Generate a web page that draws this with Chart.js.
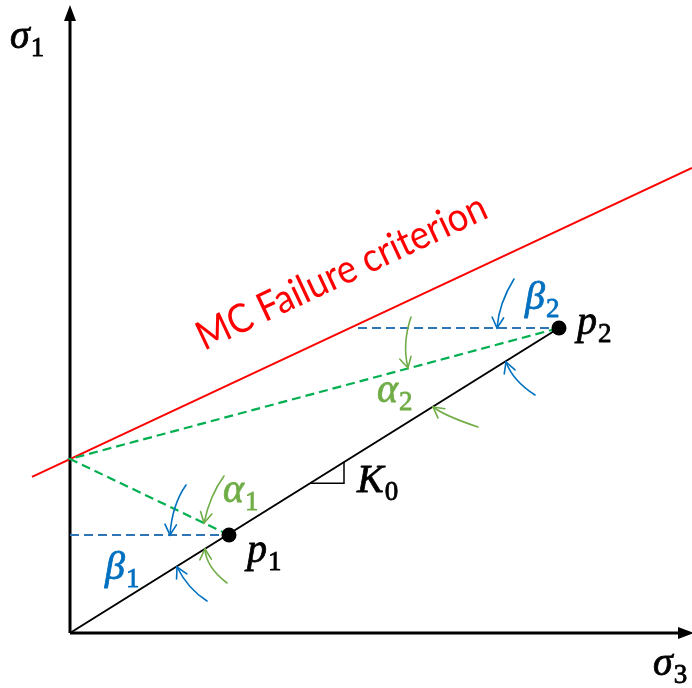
<!DOCTYPE html>
<html><head><meta charset="utf-8">
<script src="https://cdn.jsdelivr.net/npm/chart.js@4/dist/chart.umd.min.js"></script>
<style>html,body{margin:0;padding:0;background:#fff;overflow:hidden}canvas{display:block}</style>
</head><body>
<canvas id="c" width="692" height="688"></canvas>
<script>
// Stress states p1, p2 in the (σ3, σ1) plane
const stateSigma3 = [15.9, 48.9];
const stateSigma1 = [9.8, 30.5];
// Mohr–Coulomb failure line: σ1 = mcIntercept + mcSlope · σ3
const mcIntercept = 17.4;
const mcSlope = 0.468;
const mcSigma3Range = [-3.8, 62.2];
// Horizontal reference through p2 starts here (σ3)
const beta2LineStart = 28.8;
// Slope triangle on the K0 line (σ3 of its two corners)
const k0Triangle = [24.0, 27.4];
// Axis arrow tips
const sigma3Tip = 62.4;
const sigma1Tip = 62.8;

// Angle arrows: [start, control, end] in (σ3, σ1)
const betaArrows = [
  [[11.6, 14.8], [10.2, 12.8], [10.0, 9.8]],
  [[13.7, 3.2], [11.8, 4.4], [10.7, 6.6]],
  [[44.4, 35.4], [42.9, 33.0], [42.7, 30.5]],
  [[46.5, 23.8], [44.3, 25.2], [43.6, 27.1]]
];
const alphaArrows = [
  [[15.4, 15.7], [14.0, 13.8], [13.4, 11.0]],
  [[15.7, 5.0], [13.6, 6.6], [13.5, 8.4]],
  [[34.1, 31.6], [33.2, 28.9], [33.8, 26.5]],
  [[40.8, 20.6], [37.5, 21.7], [36.3, 22.6]]
];

const BLACK = '#000000', RED = '#FF0000', GREEN_D = '#00B050', BLUE_D = '#2E75B6';
const BLUE = '#0070C0', GREEN = '#70AD47';

// Symbol labels: main glyph, subscript, anchor (left/baseline) in (σ3, σ1)
const symbolLabels = [
  {t: 'σ', s: '1', at: [-6.0, 58.5], c: BLACK},
  {t: 'σ', s: '3', at: [58.3, -4.2], c: BLACK},
  {t: 'p', s: '1', at: [17.7, 7.1], c: BLACK},
  {t: 'p', s: '2', at: [50.7, 29.9], c: BLACK},
  {t: 'K', s: '0', at: [28.7, 14.1], c: BLACK},
  {t: 'β', s: '1', at: [3.5, 5.4], c: BLUE},
  {t: 'α', s: '1', at: [15.3, 13.1], c: GREEN},
  {t: 'α', s: '2', at: [30.7, 23.1], c: GREEN},
  {t: 'β', s: '2', at: [45.5, 32.4], c: BLUE}
];
const mcLabel = 'MC Failure criterion';
const mcLabelCenter = [27.7, 34.9];

const k0 = stateSigma1[1] / stateSigma3[1];
const pts = stateSigma3.map((v, i) => ({x: v, y: stateSigma1[i]}));
const A = {x: 0, y: mcIntercept};

const lineDs = (data, color, width, dash) => ({
  type: 'scatter', data, showLine: true, borderColor: color, borderWidth: width,
  borderDash: dash || [], pointRadius: 0, fill: false, tension: 0
});

const datasets = [
  {type: 'scatter', data: pts, pointRadius: 7.5, pointBackgroundColor: BLACK, pointBorderWidth: 0, showLine: false},
  lineDs([{x: k0Triangle[0], y: k0 * k0Triangle[0]}, {x: k0Triangle[1], y: k0 * k0Triangle[0]}, {x: k0Triangle[1], y: k0 * k0Triangle[1]}], BLACK, 1.5),
  lineDs([{x: 0, y: 0}, pts[1]], BLACK, 2),
  lineDs([pts[0], A, pts[1]], GREEN_D, 2.2, [9, 5]),
  lineDs([{x: 0, y: stateSigma1[0]}, pts[0]], BLUE_D, 2.2, [9, 5]),
  lineDs([{x: beta2LineStart, y: stateSigma1[1]}, pts[1]], BLUE_D, 2.2, [9, 5]),
  lineDs(mcSigma3Range.map(s => ({x: s, y: mcIntercept + mcSlope * s})), RED, 2),
  lineDs([{x: 0, y: 0}, {x: 0, y: sigma1Tip - 1.2}], BLACK, 3),
  lineDs([{x: 0, y: 0}, {x: sigma3Tip - 1.2, y: 0}], BLACK, 3)
];

const overlay = {
  id: 'overlay',
  afterDatasetsDraw(chart) {
    const {ctx, scales: {x, y}} = chart;
    const P = p => [x.getPixelForValue(p[0]), y.getPixelForValue(p[1])];
    ctx.save();
    // axis arrowheads
    ctx.fillStyle = BLACK;
    const [tx, ty] = P([0, sigma1Tip]);
    ctx.beginPath(); ctx.moveTo(tx, ty); ctx.lineTo(tx - 6, ty + 16); ctx.lineTo(tx + 6, ty + 16); ctx.closePath(); ctx.fill();
    const [rx, ry] = P([sigma3Tip, 0]);
    ctx.beginPath(); ctx.moveTo(rx, ry); ctx.lineTo(rx - 16, ry - 6); ctx.lineTo(rx - 16, ry + 6); ctx.closePath(); ctx.fill();

    // curved angle arrows
    const drawArrow = (arr, color) => {
      const [s, c, e] = arr.map(P);
      ctx.strokeStyle = color; ctx.lineWidth = 1.6; ctx.lineCap = 'round';
      ctx.beginPath(); ctx.moveTo(s[0], s[1]); ctx.quadraticCurveTo(c[0], c[1], e[0], e[1]); ctx.stroke();
      const ang = Math.atan2(e[1] - c[1], e[0] - c[0]);
      const L = 12, h = 0.5;
      ctx.beginPath();
      ctx.moveTo(e[0] - L * Math.cos(ang - h), e[1] - L * Math.sin(ang - h));
      ctx.lineTo(e[0], e[1]);
      ctx.lineTo(e[0] - L * Math.cos(ang + h), e[1] - L * Math.sin(ang + h));
      ctx.stroke();
    };
    betaArrows.forEach(a => drawArrow(a, BLUE));
    alphaArrows.forEach(a => drawArrow(a, GREEN));

    // symbol labels
    ctx.textBaseline = 'alphabetic'; ctx.textAlign = 'left';
    ctx.lineWidth = 0.8; ctx.lineJoin = 'round';
    symbolLabels.forEach(l => {
      const [lx, ly] = P(l.at);
      ctx.fillStyle = l.c; ctx.strokeStyle = l.c;
      ctx.font = 'italic 40px "Liberation Serif"';
      ctx.fillText(l.t, lx, ly); ctx.strokeText(l.t, lx, ly);
      const w = ctx.measureText(l.t).width;
      ctx.font = '27px "Liberation Serif"';
      ctx.fillText(l.s, lx + w + 1, ly + 8); ctx.strokeText(l.s, lx + w + 1, ly + 8);
    });

    // failure criterion label, rotated along the red line
    const p0 = P([0, mcIntercept]), p1 = P([10, mcIntercept + mcSlope * 10]);
    const rot = Math.atan2(p1[1] - p0[1], p1[0] - p0[0]);
    ctx.font = '40px Lato';
    const sx = 316 / ctx.measureText(mcLabel).width;
    const [cx, cy] = P(mcLabelCenter);
    ctx.translate(cx, cy); ctx.rotate(rot); ctx.scale(sx, 1);
    ctx.fillStyle = RED; ctx.textAlign = 'center';
    ctx.fillText(mcLabel, 0, 0);
    ctx.restore();
  }
};

new Chart(document.getElementById('c'), {
  type: 'scatter',
  data: {datasets},
  options: {
    responsive: false, animation: false, devicePixelRatio: 1,
    layout: {padding: 0, autoPadding: false},
    plugins: {legend: {display: false}, tooltip: {enabled: false}},
    scales: {
      x: {type: 'linear', min: -7, max: 62.2, display: false},
      y: {type: 'linear', min: -5.5, max: 63.3, display: false}
    }
  },
  plugins: [overlay]
});
</script>
</body></html>
